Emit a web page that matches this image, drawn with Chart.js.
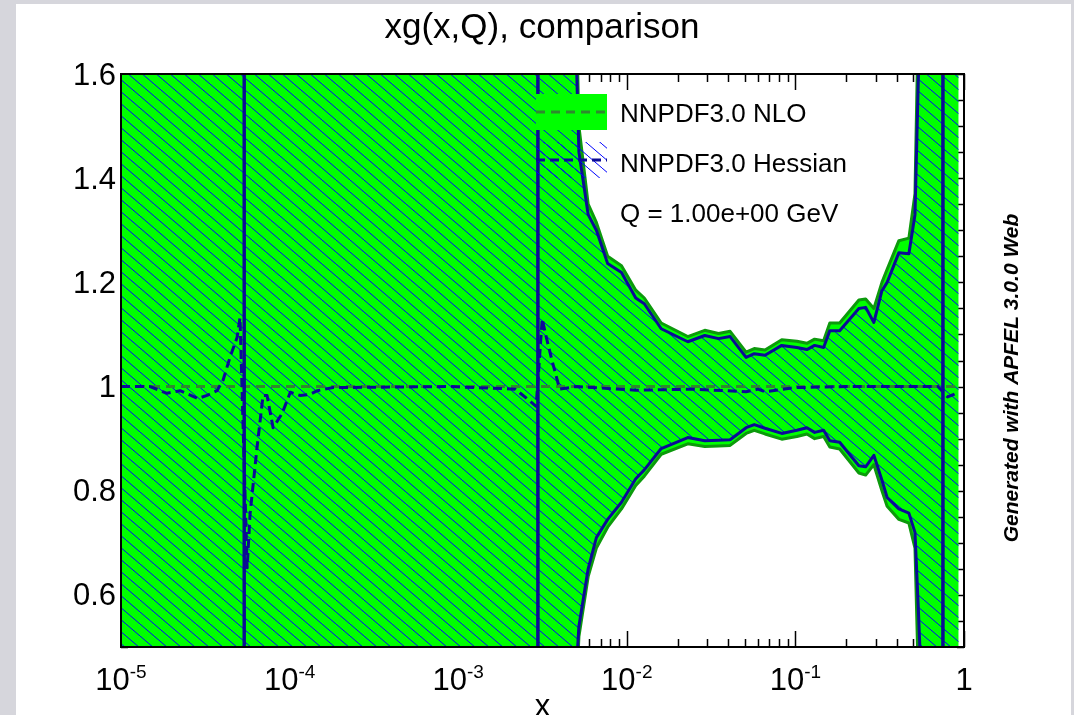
<!DOCTYPE html>
<html>
<head>
<meta charset="utf-8">
<script src="https://cdn.jsdelivr.net/npm/chart.js@4.4.1/dist/chart.umd.min.js"></script>
<style>
  html, body { margin: 0; padding: 0; }
  body { width: 1074px; height: 715px; background: #d6d6dc; position: relative; overflow: hidden; }
  #panel { position: absolute; left: 16px; top: 4px; width: 1055px; height: 711px; background: #fff; }
  #chart { position: absolute; left: 0; top: 0; }
</style>
</head>
<body>
<div id="panel"></div>
<canvas id="chart" width="1074" height="715"></canvas>
<script>
// バンドのx座標（同じxが2回あるところは中心値がゼロを横切ってバンドが反転する点）
const xBand = [1e-5, 5.38e-5, 5.38e-5, 2.97e-3, 2.97e-3, 4.7e-3, 5.0e-3, 5.2e-3, 5.9e-3, 6.6e-3,
  7.7e-3, 9.3e-3, 1.13e-2, 1.27e-2, 1.6e-2, 2.3e-2, 2.9e-2, 3.5e-2, 4.1e-2, 5.1e-2,
  5.7e-2, 6.6e-2, 8.3e-2, 0.102, 0.117, 0.130, 0.147, 0.160, 0.183, 0.238,
  0.261, 0.292, 0.326, 0.35, 0.411, 0.471, 0.512, 0.535, 0.56, 0.6,
  0.75, 0.75, 0.93];

// NNPDF3.0 NLO バンド（比）
const nloUpper = [1.8, 1.8, 1.8, 1.8, 1.8, 1.8, 1.75, 1.5, 1.35, 1.315,
  1.25, 1.232, 1.185, 1.17, 1.122, 1.096, 1.108, 1.102, 1.106, 1.066,
  1.073, 1.070, 1.090, 1.087, 1.083, 1.091, 1.088, 1.122, 1.122, 1.166,
  1.168, 1.150, 1.20, 1.225, 1.28, 1.285, 1.37, 1.7, 1.8, 1.8,
  1.8, 1.8, 1.8];
const nloLower = [0.3, 0.3, 0.3, 0.3, 0.3, 0.3, 0.40, 0.52, 0.635, 0.69,
  0.73, 0.765, 0.81, 0.828, 0.87, 0.89, 0.885, 0.886, 0.887, 0.91,
  0.916, 0.909, 0.899, 0.904, 0.909, 0.900, 0.904, 0.884, 0.880, 0.834,
  0.830, 0.85, 0.80, 0.77, 0.745, 0.738, 0.69, 0.45, 0.3, 0.3,
  0.3, 0.3, 0.3];

// NNPDF3.0 Hessian バンド（比）
const hessUpper = [1.8, 1.8, 0.3, 0.3, 1.8, 1.8, 1.65, 1.45, 1.33, 1.30,
  1.236, 1.219, 1.17, 1.159, 1.111, 1.086, 1.098, 1.092, 1.096, 1.056,
  1.063, 1.060, 1.079, 1.075, 1.071, 1.079, 1.075, 1.107, 1.107, 1.150,
  1.152, 1.123, 1.184, 1.20, 1.257, 1.255, 1.33, 1.58, 1.8, 1.8,
  1.8, 0.3, 0.3];
const hessLower = [0.3, 0.3, 1.8, 1.8, 0.3, 0.3, 0.45, 0.54, 0.65, 0.71,
  0.745, 0.778, 0.823, 0.84, 0.881, 0.902, 0.896, 0.897, 0.898, 0.921,
  0.927, 0.92, 0.910, 0.916, 0.921, 0.912, 0.916, 0.896, 0.893, 0.848,
  0.846, 0.868, 0.820, 0.787, 0.765, 0.757, 0.72, 0.58, 0.42, 0.3,
  0.3, 1.8, 1.8];

// 中心値
const xNloCentral = [1e-5, 0.93];
const nloCentral = [1, 1];
const xHessCentral = [1e-5, 1.49e-5, 1.87e-5, 2.24e-5, 2.86e-5, 3.24e-5, 3.71e-5, 4.03e-5, 4.43e-5, 4.88e-5,
  5.08e-5, 5.6e-5, 5.83e-5, 6.41e-5, 6.96e-5, 7.35e-5, 7.98e-5, 9.02e-5, 1.01e-4, 1.15e-4,
  1.32e-4, 1.46e-4, 1.81e-4, 9.0e-4, 2.18e-3, 2.6e-3, 2.9e-3, 3.15e-3, 3.3e-3, 3.6e-3,
  4.0e-3, 5.0e-3, 1.13e-2, 2.5e-2, 5.1e-2, 6.0e-2, 6.6e-2, 0.1, 0.2, 0.5,
  0.7, 0.8, 0.87, 0.93];
const hessCentral = [1.0, 1.0, 0.987, 0.992, 0.977, 0.983, 0.992, 1.012, 1.056, 1.094,
  1.132, 0.652, 0.756, 0.883, 0.983, 0.983, 0.921, 0.948, 0.989, 0.983,
  0.985, 0.992, 0.998, 1.0, 0.995, 0.975, 0.962, 1.13, 1.10, 1.05,
  0.995, 1.0, 0.993, 0.995, 0.99, 0.995, 0.99, 0.998, 1.0, 1.0,
  1.0, 0.98, 0.985, 0.99];

// 目盛りラベル
const xTickValues = [1e-5, 1e-4, 1e-3, 1e-2, 1e-1, 1];
const xTickBases = ['10', '10', '10', '10', '10', '1'];
const xTickExponents = ['-5', '-4', '-3', '-2', '-1', ''];
const yTickValues = [0.6, 0.8, 1, 1.2, 1.4, 1.6];
const yTickLabels = ['0.6', '0.8', '1', '1.2', '1.4', '1.6'];
const legendLabels = ['NNPDF3.0 NLO', 'NNPDF3.0 Hessian', 'Q = 1.00e+00 GeV'];

// 色
const NLO_FILL = '#00ff00';
const NLO_EDGE = '#0c9a0c';
const NLO_DASH = '#2e8a2e';
const HESS_EDGE = '#0b0b96';
const FONT = '"Liberation Sans", Arial, Helvetica, sans-serif';

// ハッチ模様のパターン
function makeHatch() {
    const c = document.createElement('canvas');
    c.width = 14;
    c.height = 12;
    const g = c.getContext('2d');
    g.strokeStyle = '#0000ff';
    g.lineWidth = 1;
    g.beginPath();
    for (let k = -1; k <= 1; k++) {
        g.moveTo(k * 14, 0);
        g.lineTo(k * 14 + 14, 12);
    }
    g.stroke();
    return g.createPattern(c, 'repeat');
}
const hatch = makeHatch();

const toPoints = (xs, ys) => xs.map((x, i) => ({ x: x, y: ys[i] }));

// 枠・目盛り・ラベル・凡例を描くプラグイン
const frameDeco = {
    id: 'frameDeco',
    beforeDraw(chart) {
        const { ctx, chartArea: a, scales: { x, y } } = chart;
        ctx.save();
        ctx.strokeStyle = '#000';
        ctx.lineWidth = 1.5;
        ctx.beginPath();
        // x軸の目盛り（上下、内向き）
        for (let e = -5; e <= 0; e++) {
            for (let m = 1; m <= 9; m++) {
                const v = m * Math.pow(10, e);
                if (v > 1) break;
                const px = Math.round(x.getPixelForValue(v)) + 0.5;
                const len = m === 1 ? 16 : 8;
                ctx.moveTo(px, a.bottom);
                ctx.lineTo(px, a.bottom - len);
                ctx.moveTo(px, a.top);
                ctx.lineTo(px, a.top + len);
            }
        }
        // y軸の目盛り（0.05刻み）
        for (let i = 0; i <= 22; i++) {
            const py = Math.round(y.getPixelForValue(0.5 + i * 0.05)) + 0.5;
            ctx.moveTo(a.right, py);
            ctx.lineTo(a.right - 7, py);
            ctx.moveTo(a.left, py);
            ctx.lineTo(a.left + 7, py);
        }
        ctx.stroke();
        ctx.restore();
    },
    afterDatasetsDraw(chart) {
        const { ctx, chartArea: a } = chart;
        ctx.save();
        // 枠線
        ctx.strokeStyle = '#000';
        ctx.lineWidth = 2;
        ctx.strokeRect(a.left, a.top, a.right - a.left, a.bottom - a.top);

        // 凡例
        const lx = 536, lw = 71;
        ctx.fillStyle = NLO_FILL;
        ctx.fillRect(lx, 94, lw, 36);
        ctx.strokeStyle = NLO_DASH;
        ctx.lineWidth = 3;
        ctx.setLineDash([9, 6]);
        ctx.beginPath();
        ctx.moveTo(lx, 112);
        ctx.lineTo(lx + lw, 112);
        ctx.stroke();

        ctx.fillStyle = hatch;
        ctx.fillRect(lx, 142, lw, 36);
        ctx.strokeStyle = HESS_EDGE;
        ctx.setLineDash([9, 5]);
        ctx.beginPath();
        ctx.moveTo(lx, 160);
        ctx.lineTo(lx + lw, 160);
        ctx.stroke();
        ctx.setLineDash([]);

        ctx.fillStyle = '#000';
        ctx.font = '26px ' + FONT;
        ctx.textAlign = 'left';
        ctx.textBaseline = 'alphabetic';
        legendLabels.forEach((t, i) => ctx.fillText(t, 620, 122 + i * 50));
        ctx.restore();
    },
    afterDraw(chart) {
        const { ctx, chartArea: a, scales: { x, y } } = chart;
        ctx.save();
        ctx.fillStyle = '#000';

        // タイトル
        ctx.font = '35px ' + FONT;
        ctx.textAlign = 'center';
        ctx.textBaseline = 'alphabetic';
        ctx.fillText('xg(x,Q), comparison', 542, 38);

        // y軸ラベル
        ctx.font = '31px ' + FONT;
        ctx.textAlign = 'right';
        ctx.textBaseline = 'middle';
        yTickValues.forEach((v, i) => ctx.fillText(yTickLabels[i], a.left - 5, y.getPixelForValue(v) + 2));

        // x軸ラベル（10のべき乗）
        const baseFont = '31px ' + FONT;
        const supFont = '19px ' + FONT;
        ctx.textAlign = 'left';
        ctx.textBaseline = 'alphabetic';
        xTickValues.forEach((v, i) => {
            const px = x.getPixelForValue(v);
            ctx.font = baseFont;
            const wb = ctx.measureText(xTickBases[i]).width;
            ctx.font = supFont;
            const we = xTickExponents[i] ? ctx.measureText(xTickExponents[i]).width : 0;
            const left = px - (wb + we) / 2;
            ctx.font = baseFont;
            ctx.fillText(xTickBases[i], left, 690);
            if (xTickExponents[i]) {
                ctx.font = supFont;
                ctx.fillText(xTickExponents[i], left + wb, 678);
            }
        });

        // x軸タイトル
        ctx.font = '31px ' + FONT;
        ctx.textAlign = 'center';
        ctx.fillText('x', (a.left + a.right) / 2, 716);

        // 右側のクレジット
        ctx.translate(1012, 378);
        ctx.rotate(-Math.PI / 2);
        ctx.font = 'italic bold 21px ' + FONT;
        ctx.textAlign = 'center';
        ctx.textBaseline = 'middle';
        ctx.fillText('Generated with APFEL 3.0.0 Web', 0, 0);
        ctx.restore();
    }
};

const lineBase = { pointRadius: 0, tension: 0, borderJoinStyle: 'round' };

const chart = new Chart(document.getElementById('chart'), {
    type: 'line',
    data: {
        datasets: [
            { ...lineBase, label: 'NNPDF3.0 NLO up', data: toPoints(xBand, nloUpper), borderColor: NLO_EDGE, borderWidth: 3, backgroundColor: NLO_FILL, fill: '+1', order: 6 },
            { ...lineBase, label: 'NNPDF3.0 NLO down', data: toPoints(xBand, nloLower), borderColor: NLO_EDGE, borderWidth: 3, fill: false, order: 5 },
            { ...lineBase, label: 'NNPDF3.0 NLO', data: toPoints(xNloCentral, nloCentral), borderColor: NLO_DASH, borderWidth: 3, borderDash: [9, 6], fill: false, order: 4 },
            { ...lineBase, label: 'NNPDF3.0 Hessian up', data: toPoints(xBand, hessUpper), borderColor: HESS_EDGE, borderWidth: 3, backgroundColor: hatch, fill: '+1', order: 3 },
            { ...lineBase, label: 'NNPDF3.0 Hessian down', data: toPoints(xBand, hessLower), borderColor: HESS_EDGE, borderWidth: 3, fill: false, order: 2 },
            { ...lineBase, label: 'NNPDF3.0 Hessian', data: toPoints(xHessCentral, hessCentral), borderColor: HESS_EDGE, borderWidth: 3, borderDash: [9, 5], fill: false, order: 1 }
        ]
    },
    options: {
        responsive: false,
        animation: false,
        devicePixelRatio: 1,
        layout: { padding: { left: 121, top: 74, right: 110, bottom: 68 } },
        scales: {
            x: { type: 'logarithmic', min: 1e-5, max: 1, display: false },
            y: { type: 'linear', min: 0.5, max: 1.6, display: false }
        },
        plugins: {
            legend: { display: false },
            tooltip: { enabled: false },
            filler: { drawTime: 'beforeDatasetsDraw' }
        }
    },
    plugins: [frameDeco]
});
</script>
</body>
</html>
